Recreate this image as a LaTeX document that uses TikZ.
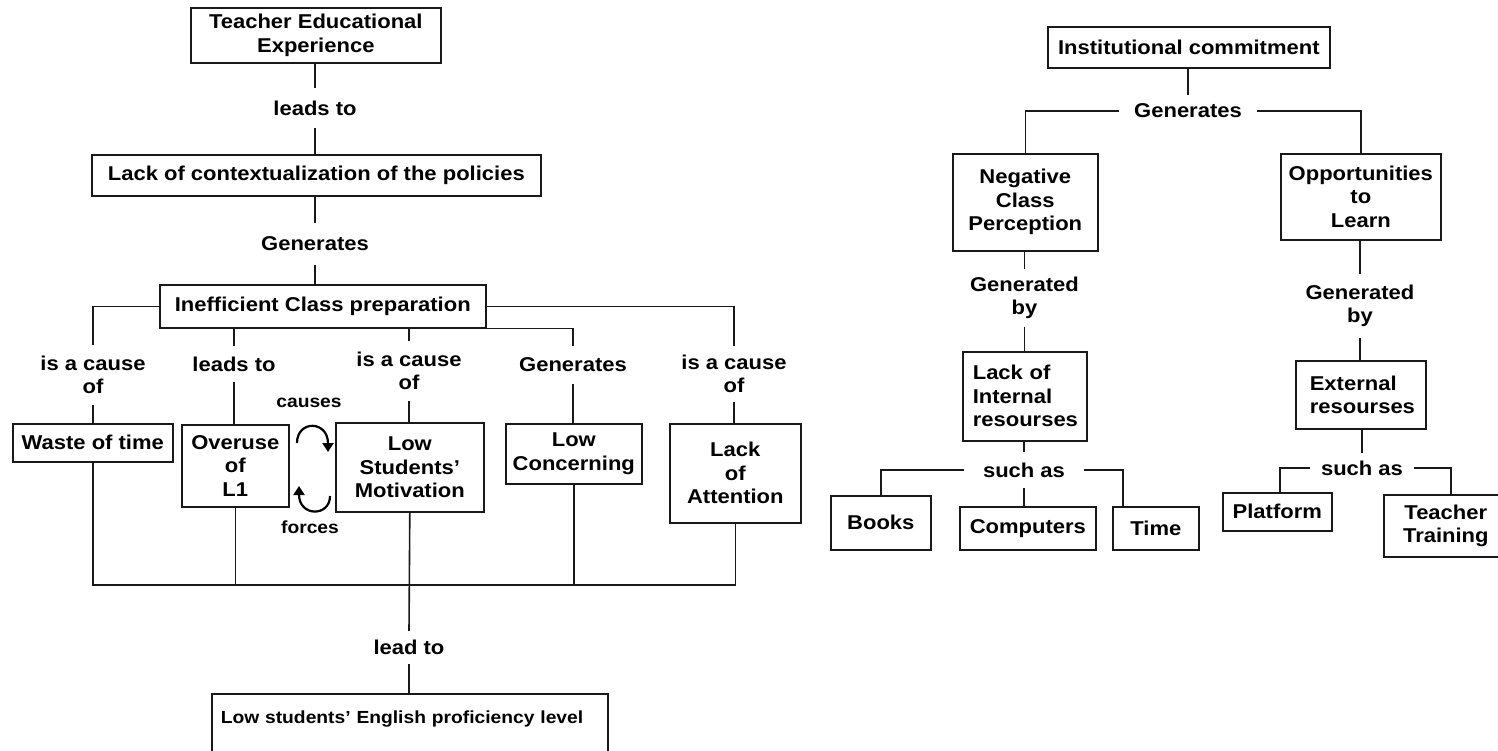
\documentclass[tikz,border=0pt]{standalone}
\usepackage{fontspec}
\setmainfont{Liberation Sans}[FakeStretch=1.1]
\usetikzlibrary{arrows.meta}
\begin{document}
\begin{tikzpicture}[x=1pt,y=-1pt,
  every node/.style={font=\bfseries\fontsize{20}{23.5}\selectfont, text=black},
  box/.style={draw=black!90, line width=1.6pt, inner sep=0pt, align=center, anchor=north west},
  lbl/.style={inner sep=0pt, align=center},
  small/.style={font=\bfseries\fontsize{17.5}{20}\selectfont},
  ln/.style={draw=black!90, line width=1.6pt},
  curl/.style={draw=black, line width=2.2pt, -{Triangle[length=9pt,width=11pt]}},
]
\useasboundingbox (0,0) rectangle (1498,750);

% ---------------- left tree ----------------
\node[box, minimum width=250pt, minimum height=55pt] (teach) at (190,7) {Teacher Educational\\Experience};
\node[lbl, minimum height=40pt] (l1) at (315,108) {leads to};
\node[box, minimum width=449pt, minimum height=41pt] (lack) at (91,154) {Lack of contextualization of the policies};
\node[lbl, minimum height=41pt] (l2) at (315,244) {Generates};
\node[box, minimum width=326pt, minimum height=43pt] (ineff) at (159,284) {Inefficient Class preparation};

\node[lbl, minimum height=59pt] (c1) at (93,375) {is a cause\\of};
\node[lbl, minimum height=35pt] (c2) at (234,364) {leads to};
\node[lbl, minimum height=60pt] (c3) at (409,371) {is a cause\\of};
\node[lbl, minimum height=37pt] (c4) at (573,365) {Generates};
\node[lbl, minimum height=56pt] (c5) at (734,374) {is a cause\\of};

\node[box, minimum width=160pt, minimum height=38pt] (waste) at (12,423) {Waste of time};
\node[box, minimum width=107pt, minimum height=82pt] (over) at (181,424) {Overuse\\of\\L1};
\node[box, minimum width=148pt, minimum height=89pt] (mot) at (335,422) {Low\\Students'\\Motivation};
\node[box, minimum width=136pt, minimum height=60pt] (conc) at (505,423) {Low\\Concerning};
\node[box, minimum width=131pt, minimum height=99pt] (attn) at (669,423) {Lack\\of\\Attention};

\node[lbl, small] (causes) at (309,403) {causes};
\node[lbl, small] (forces) at (310,527) {forces};
\coordinate (cA) at (297,443);
\coordinate (cB) at (328,452);
\coordinate (fA) at (330,496);
\coordinate (fB) at (299,486);
\draw[curl] (cA) .. controls (297,420) and (328,420) .. (cB);
\draw[curl] (fA) .. controls (330,517) and (299,517) .. (fB);

\coordinate (bus) at (409,585);
\node[lbl, minimum height=33pt] (leadto) at (409,647.5) {lead to};
\node[box, small, minimum width=396pt, minimum height=70pt, inner xsep=9pt, text width=378pt, align=left, text depth=24pt] (final) at (211,693) {Low students' English proficiency level};

\draw[ln] (l1.north) -- (l1.north |- teach.south);
\draw[ln] (l1.south) -- (l1.south |- lack.north);
\draw[ln] (l2.north) -- (l2.north |- lack.south);
\draw[ln] (l2.south) -- (l2.south |- ineff.north);

\draw[ln] (ineff.west) -| (c1.north);
\draw[ln] (c2.north |- ineff.south) -- (c2.north);
\draw[ln] (c3.north |- ineff.south) -- (c3.north);
\draw[ln] (ineff.south east) -| (c4.north);
\draw[ln] (ineff.east) -| (c5.north);

\draw[ln] (c1.south) -- (c1.south |- waste.north);
\draw[ln] (c2.south) -- (c2.south |- over.north);
\draw[ln] (c3.south) -- (c3.south |- mot.north);
\draw[ln] (c4.south) -- (c4.south |- conc.north);
\draw[ln] (c5.south) -- (c5.south |- attn.north);

\draw[ln] (waste.south) -- (waste.south |- bus) -- (attn.south |- bus) -- (attn.south);
\draw[ln] (over.south) -- (over.south |- bus);
\draw[ln] (conc.south) -- (conc.south |- bus);
\draw[ln] (mot.south) -- (leadto.north);
\draw[ln] (leadto.south) -- (leadto.south |- final.north);

% ---------------- right tree ----------------
\node[box, minimum width=282pt, minimum height=41pt] (inst) at (1047,26) {Institutional commitment};
\node[lbl, minimum width=138pt, minimum height=32pt] (gen) at (1188,111) {Generates};
\node[box, minimum width=145pt, minimum height=97pt] (neg) at (952,153) {Negative\\Class\\Perception};
\node[box, minimum width=160pt, minimum height=86pt] (opp) at (1280,153) {Opportunities\\to\\Learn};
\node[lbl, minimum height=57pt] (gb1) at (1024.5,298) {Generated\\by};
\node[lbl, minimum height=63pt] (gb2) at (1360,306) {Generated\\by};
\node[box, minimum width=124pt, minimum height=89pt, inner xsep=10pt, text width=104pt, align=left] (lint) at (962,351) {Lack of\\Internal\\resourses};
\node[box, minimum width=130pt, minimum height=68pt, inner xsep=14pt, text width=102pt, align=left] (ext) at (1295,360) {External\\resourses};
\node[lbl, minimum width=119pt, minimum height=35pt] (sa1) at (1024,470) {such as};
\node[box, minimum width=100pt, minimum height=54pt] (books) at (830,495) {Books};
\node[box, minimum width=136pt, minimum height=43pt] (comp) at (959,506) {Computers};
\node[box, minimum width=86pt, minimum height=43pt] (time) at (1112,506) {Time};
\node[lbl, minimum width=104pt, minimum height=30pt] (sa2) at (1362,468) {such as};
\node[box, minimum width=109pt, minimum height=38pt] (plat) at (1222,492) {Platform};
\node[box, minimum width=124pt, minimum height=62pt] (tt) at (1383,494) {Teacher\\Training};

\draw[ln] (gen.north) -- (gen.north |- inst.south);
\draw[ln] (gen.west) -| (neg.north);
\draw[ln] (gen.east) -| (opp.north);
\draw[ln] (gb1.north) -- (gb1.north |- neg.south);
\draw[ln] (gb1.south) -- (gb1.south |- lint.north);
\draw[ln] (gb2.north) -- (gb2.north |- opp.south);
\draw[ln] (gb2.south) -- (gb2.south |- ext.north);
\draw[ln] (sa1.north) -- (sa1.north |- lint.south);
\draw[ln] (sa1.west) -| (books.north);
\draw[ln] (sa1.east) -| ([xshift=11pt]time.north west);
\draw[ln] (sa1.south) -- (sa1.south |- comp.north);
\draw[ln] (sa2.north) -- (sa2.north |- ext.south);
\draw[ln] (sa2.west) -| ([xshift=58pt]plat.north west);
\draw[ln] (sa2.east) -| ([xshift=68pt]tt.north west);
\end{tikzpicture}
\end{document}
